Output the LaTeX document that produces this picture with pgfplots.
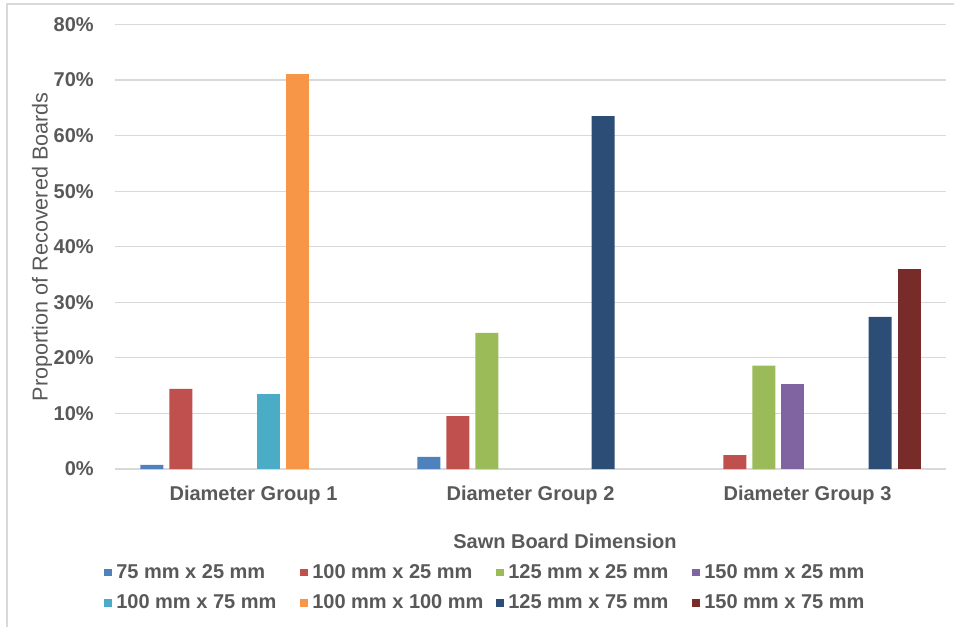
\documentclass[border=0pt]{standalone}
\usepackage{fontspec}
\setmainfont{Liberation Sans}
\usepackage{pgfplots}
\pgfplotsset{compat=1.18}
\definecolor{txt}{HTML}{595959}
\definecolor{gridc}{HTML}{D9D9D9}
\definecolor{cA}{HTML}{4F81BD}
\definecolor{cB}{HTML}{C0504D}
\definecolor{cC}{HTML}{9BBB59}
\definecolor{cD}{HTML}{8064A2}
\definecolor{cE}{HTML}{4BACC6}
\definecolor{cF}{HTML}{F79646}
\definecolor{cG}{HTML}{2C4D75}
\definecolor{cH}{HTML}{772C2A}
\newcommand{\lt}[1]{\hspace{2.5pt}\makebox[125pt][l]{#1}}
\begin{document}
\begin{tikzpicture}
\useasboundingbox (0,0) rectangle (715.5pt,469.5pt);
\draw[gridc, line width=1.1pt] (5.25pt,-1pt) -- (5.25pt,466.5pt) -- (716pt,466.5pt);
\begin{axis}[
  at={(86.25pt,117.75pt)}, anchor=south west,
  scale only axis, width=623.25pt, height=333.4pt,
  xmin=-0.5, xmax=2.5, ymin=0, ymax=80,
  xtick={0,1,2},
  xticklabels={Diameter Group 1,Diameter Group 2,Diameter Group 3},
  ytick={0,10,...,80},
  yticklabel={\pgfmathprintnumber{\tick}\%},
  /pgf/number format/assume math mode=true,
  axis line style={draw=none},
  major tick length=0pt,
  xmajorgrids=false, ymajorgrids=true,
  major grid style={draw=gridc, line width=0.9pt},
  ticklabel style={font=\fontsize{15}{18}\selectfont\bfseries, text=txt},
  yticklabel style={anchor=east, inner sep=0pt, xshift=-15.75pt},
  xticklabel style={anchor=center, inner sep=0pt, yshift=-19.5pt},
  xlabel={Sawn Board Dimension},
  xlabel style={at={(axis description cs:0.5415,-0.162)}, anchor=center, font=\fontsize{15}{18}\selectfont\bfseries, text=txt},
  ylabel={Proportion of Recovered Boards},
  ylabel style={at={(axis description cs:-0.0878,0.5)}, anchor=center, font=\fontsize{16.2}{19}\selectfont, text=txt},
  ybar, bar width=17.25pt,
  legend columns=4,
  legend cell align=left,
  legend style={at={(axis description cs:-0.018,-0.205)}, anchor=north west, draw=none,
    font=\fontsize{15}{18}\selectfont\bfseries, text=txt,
    /tikz/every even column/.append style={column sep=12pt},
    row sep=9pt, nodes={inner sep=1pt}},
  legend image code/.code={\fill[#1] (0pt,-2.75pt) rectangle (5.5pt,2.75pt);},
]
\addplot[fill=cA, draw=none, bar shift=-76.3pt] coordinates {(0,0.75) (1,2.2)};
\addplot[fill=cB, draw=none, bar shift=-54.5pt] coordinates {(0,14.4) (1,9.5) (2,2.5)};
\addplot[fill=cC, draw=none, bar shift=-32.7pt] coordinates {(1,24.5) (2,18.6)};
\addplot[fill=cD, draw=none, bar shift=-10.9pt] coordinates {(2,15.3)};
\addplot[fill=cE, draw=none, bar shift=10.9pt] coordinates {(0,13.5)};
\addplot[fill=cF, draw=none, bar shift=32.7pt] coordinates {(0,71.1)};
\addplot[fill=cG, draw=none, bar shift=54.5pt] coordinates {(1,63.5) (2,27.4)};
\addplot[fill=cH, draw=none, bar shift=76.3pt] coordinates {(2,36.0)};
\legend{\lt{75 mm x 25 mm},\lt{100 mm x 25 mm},\lt{125 mm x 25 mm},\lt{150 mm x 25 mm},
\lt{100 mm x 75 mm},\lt{100 mm x 100 mm},\lt{125 mm x 75 mm},\lt{150 mm x 75 mm}}
\end{axis}
\end{tikzpicture}
\end{document}
